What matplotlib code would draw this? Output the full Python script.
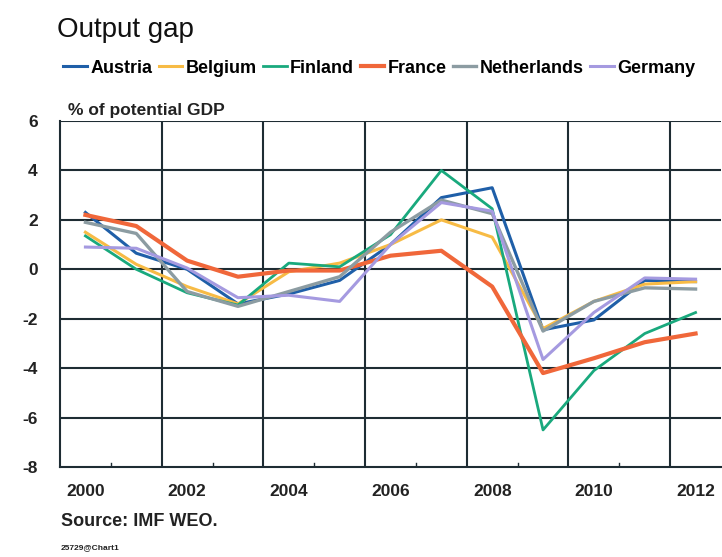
import numpy as np
import matplotlib
matplotlib.use('Agg')
import matplotlib.pyplot as plt
from matplotlib.ticker import MultipleLocator

plt.rcParams['font.family'] = ['Liberation Sans', 'DejaVu Sans']
plt.rcParams['axes.unicode_minus'] = False

years = list(range(2000, 2013))

austria = [2.3, 0.65, 0.0, -1.4, -1.0, -0.45, 1.0, 2.9, 3.3, -2.45, -2.05, -0.45, -0.5]
belgium = [1.5, 0.2, -0.7, -1.4, -0.1, 0.25, 1.0, 2.0, 1.3, -2.4, -1.3, -0.6, -0.5]
finland = [1.35, 0.0, -0.95, -1.45, 0.25, 0.1, 1.4, 4.0, 2.45, -6.5, -4.1, -2.6, -1.75]
france = [2.2, 1.75, 0.35, -0.3, -0.05, -0.05, 0.55, 0.75, -0.7, -4.2, -3.6, -2.95, -2.6]
netherlands = [1.9, 1.45, -0.9, -1.5, -0.9, -0.3, 1.5, 2.8, 2.25, -2.5, -1.3, -0.75, -0.8]
germany = [0.9, 0.85, 0.05, -1.15, -1.05, -1.3, 1.0, 2.7, 2.35, -3.65, -1.75, -0.35, -0.4]

series = [
    ('Austria', austria, '#1f5fa8', 2.2),
    ('Belgium', belgium, '#f7bb45', 2.2),
    ('Finland', finland, '#19a97d', 2.0),
    ('France', france, '#f0673a', 3.0),
    ('Netherlands', netherlands, '#8c9ca2', 2.4),
    ('Germany', germany, '#a59ae0', 2.2),
]

fig = plt.figure(figsize=(7.22, 5.57), dpi=100)
ax = fig.add_axes([60 / 722, 90 / 557, 661 / 722, 346 / 557])

for name, vals, col, lw in series:
    ax.plot(years, vals, color=col, lw=lw, label=name, solid_joinstyle='round')

ax.set_xlim(1999.5, 2012.5)
ax.set_ylim(-8, 6)
ax.yaxis.set_major_locator(MultipleLocator(2))
ax.set_xticks(years[::2])
ax.set_xticklabels([str(y) for y in years[::2]])
ax.tick_params(axis='both', length=0, labelsize=12.5, colors='#222222', pad=12)
for lab in ax.get_xticklabels() + ax.get_yticklabels():
    lab.set_fontweight('bold')
ax.tick_params(axis='y', pad=16)

# dark grid lines
gcol = '#1e2c33'
for y in range(-6, 7, 2):
    ax.axhline(y, color=gcol, lw=1.5, zorder=0)
for x in np.arange(2001.5, 2012, 2):
    ax.axvline(x, color=gcol, lw=1.5, zorder=0)
# small minor ticks
for x in np.arange(2000.5, 2012, 2):
    ax.plot([x, x], [-8, -7.85], color=gcol, lw=1, zorder=0)

for s in ['top', 'right']:
    ax.spines[s].set_visible(False)
for s in ['left', 'bottom']:
    ax.spines[s].set_color(gcol)
    ax.spines[s].set_linewidth(1.5)

fig.text(57 / 722, 1 - 30 / 557, 'Output gap', fontsize=20, va='center', ha='left', color='#111111')
fig.text(68 / 722, 1 - 110 / 557, '% of potential GDP', fontsize=12.5, va='center', ha='left',
         color='#222222', fontweight='bold')
fig.text(61 / 722, 1 - 522 / 557, 'Source: IMF WEO.', fontsize=13, va='center', ha='left',
         color='#222222', fontweight='bold')
fig.text(61 / 722, 1 - 548 / 557, '25729@Chart1', fontsize=6, va='center', ha='left',
         color='#222222', fontweight='bold')

fig.legend(loc='center left', bbox_to_anchor=(56 / 722, 1 - 68 / 557), ncol=6, frameon=False,
           handlelength=1.3, handletextpad=0.2, columnspacing=0.35, borderaxespad=0,
           prop={'size': 13, 'weight': 'bold'})

fig.savefig('out.png', dpi=100)
